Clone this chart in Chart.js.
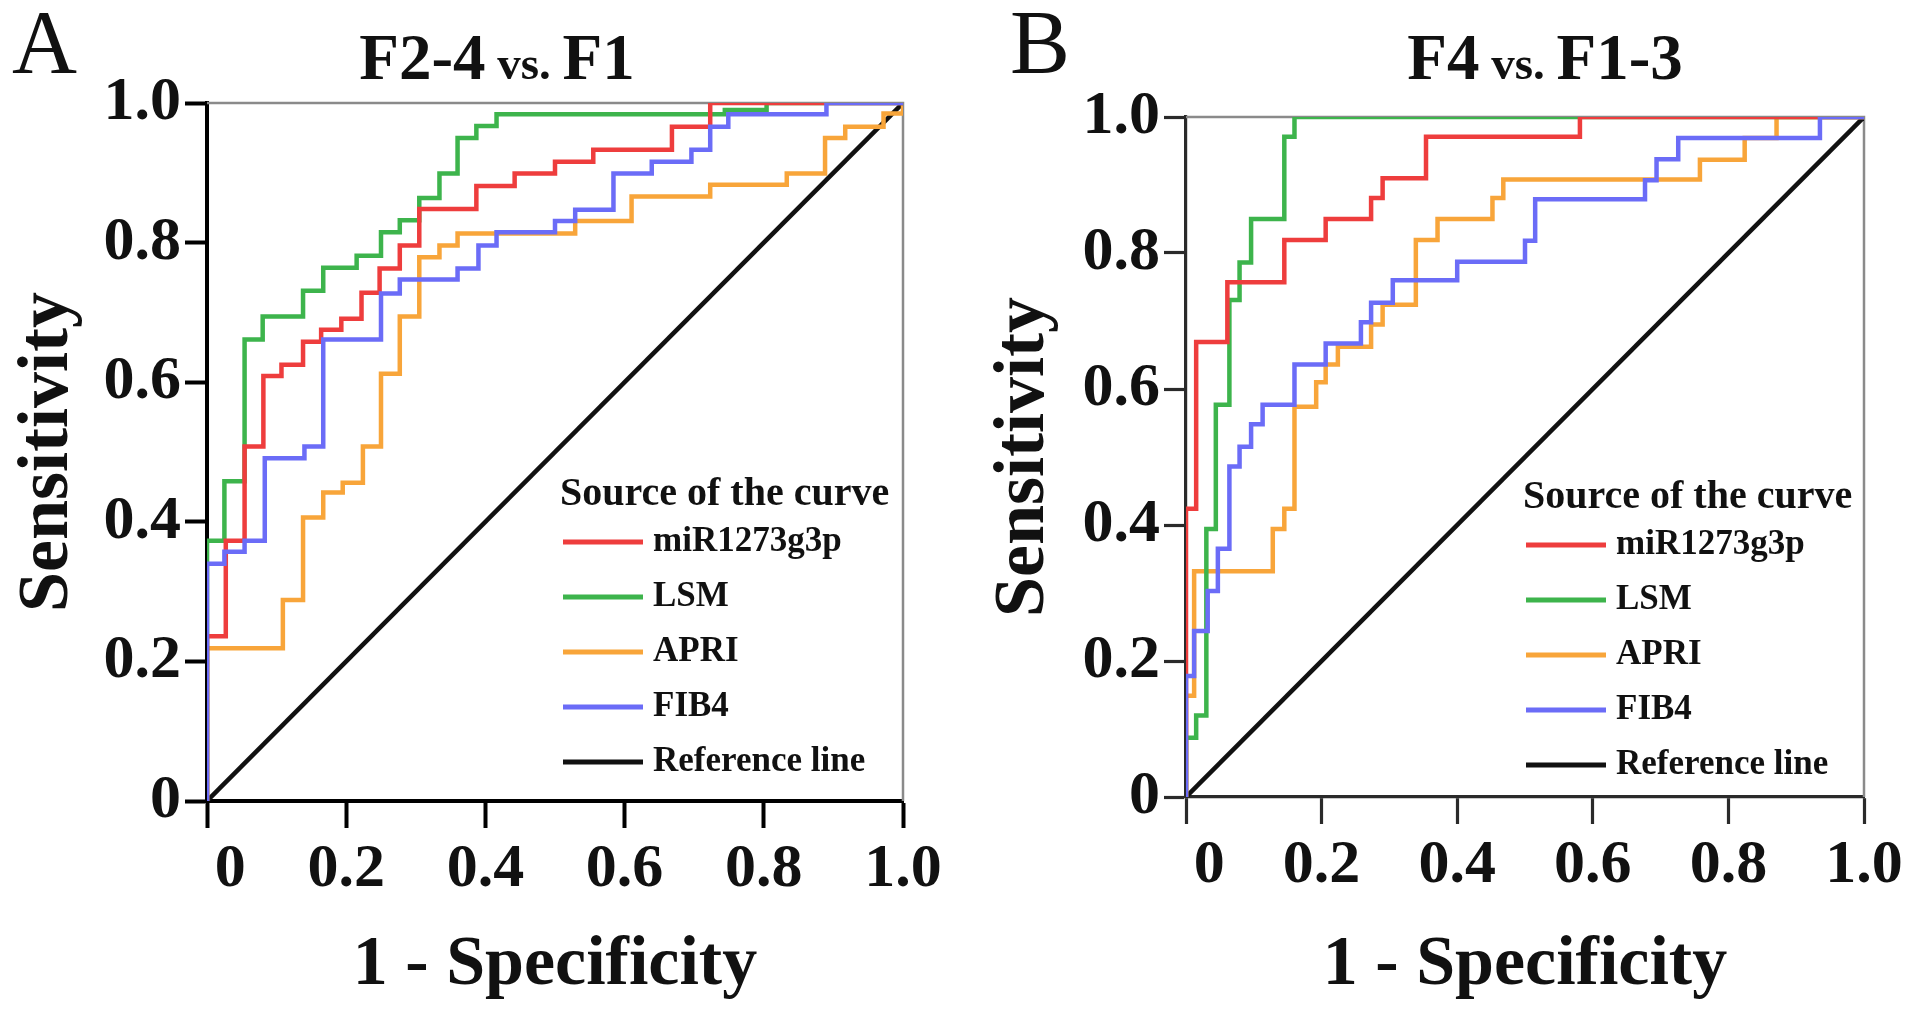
<!DOCTYPE html>
<html>
<head>
<meta charset="utf-8">
<script src="https://cdn.jsdelivr.net/npm/chart.js@4.4.0/dist/chart.umd.min.js"></script>
<style>
  html, body { margin: 0; padding: 0; background: #fff; }
  #wrap { position: relative; width: 1913px; height: 1015px; overflow: hidden; }
  canvas { position: absolute; top: 0; }
  #cA { left: 0; width: 957px; height: 1015px; }
  #cB { left: 957px; width: 956px; height: 1015px; }
</style>
</head>
<body>
<div id="wrap">
  <canvas id="cA" width="957" height="1015"></canvas>
  <canvas id="cB" width="956" height="1015"></canvas>
</div>
<script>
var seriesNames = ["miR1273g3p", "LSM", "APRI", "FIB4", "Reference line"];
var seriesColors = ["#ee3d3d", "#3db44c", "#f8a53a", "#6b6cf7", "#111111"];
var xTicks = [0, 0.2, 0.4, 0.6, 0.8, 1.0];
var xTickLabels = ["\u2007 0", "0.2", "0.4", "0.6", "0.8", "1.0"];
var yTicks = [0, 0.2, 0.4, 0.6, 0.8, 1.0];
var yTickLabels = ["0", "0.2", "0.4", "0.6", "0.8", "1.0"];
var xTitle = "1 - Specificity";
var yTitle = "Sensitivity";
var legendTitle = "Source of the curve";

// panel A: F2-4 vs. F1   points are [1 - specificity, sensitivity]
var aMir = [[0,0],[0,0.236],[0.027,0.373],[0.054,0.508],[0.081,0.609],[0.107,0.625],[0.138,0.658],[0.164,0.675],[0.193,0.691],[0.222,0.728],[0.248,0.763],[0.277,0.796],[0.305,0.848],[0.387,0.881],[0.442,0.899],[0.50,0.916],[0.555,0.933],[0.668,0.966],[0.723,1],[1,1]];
var aLsm = [[0,0],[0,0.373],[0.025,0.458],[0.054,0.661],[0.08,0.694],[0.138,0.731],[0.167,0.764],[0.215,0.781],[0.25,0.815],[0.277,0.832],[0.305,0.864],[0.334,0.899],[0.36,0.95],[0.387,0.967],[0.416,0.984],[0.744,0.99],[0.804,1],[1,1]];
var aApri = [[0,0],[0,0.219],[0.109,0.288],[0.138,0.406],[0.167,0.442],[0.195,0.456],[0.224,0.508],[0.25,0.612],[0.277,0.694],[0.305,0.779],[0.334,0.796],[0.36,0.813],[0.529,0.831],[0.61,0.866],[0.723,0.883],[0.833,0.899],[0.888,0.95],[0.917,0.966],[0.972,0.985],[1,1]];
var aFib4 = [[0,0],[0,0.34],[0.025,0.357],[0.054,0.373],[0.083,0.491],[0.14,0.508],[0.167,0.661],[0.25,0.727],[0.277,0.747],[0.36,0.763],[0.39,0.796],[0.416,0.815],[0.50,0.831],[0.529,0.847],[0.584,0.899],[0.639,0.916],[0.696,0.933],[0.723,0.966],[0.749,0.984],[0.89,1],[1,1]];

// panel B: F4 vs. F1-3
var bMir = [[0,0],[0,0.424],[0.015,0.669],[0.061,0.757],[0.145,0.819],[0.206,0.85],[0.273,0.881],[0.29,0.91],[0.354,0.971],[0.581,1],[1,1]];
var bLsm = [[0,0],[0,0.087],[0.015,0.12],[0.03,0.394],[0.044,0.577],[0.064,0.603],[0.064,0.731],[0.079,0.786],[0.096,0.85],[0.145,0.971],[0.16,1],[1,1]];
var bApri = [[0,0],[0,0.149],[0.012,0.332],[0.128,0.394],[0.145,0.424],[0.16,0.574],[0.192,0.61],[0.206,0.636],[0.224,0.662],[0.273,0.695],[0.29,0.724],[0.339,0.819],[0.371,0.85],[0.452,0.881],[0.468,0.908],[0.758,0.937],[0.824,0.969],[0.871,1],[1,1]];
var bFib4 = [[0,0],[0,0.178],[0.012,0.244],[0.032,0.303],[0.047,0.365],[0.064,0.486],[0.079,0.515],[0.096,0.548],[0.113,0.577],[0.16,0.636],[0.206,0.667],[0.258,0.698],[0.273,0.727],[0.305,0.76],[0.40,0.787],[0.5,0.818],[0.515,0.879],[0.677,0.907],[0.694,0.938],[0.726,0.969],[0.935,1],[1,1]];

var refLine = [[0,0],[1,1]];

var serif = "Liberation Serif";

function makePanel(id, p) {
  var decor = {
    id: "decor" + id,
    beforeDatasetsDraw: function (chart) {
      var a = chart.chartArea, ctx = chart.ctx;
      ctx.save();
      ctx.strokeStyle = "#8a8a8a";
      ctx.lineWidth = 2.5;
      ctx.beginPath();
      ctx.moveTo(a.left, a.top);
      ctx.lineTo(a.right, a.top);
      ctx.lineTo(a.right, a.bottom);
      ctx.stroke();
      ctx.restore();
    },
    afterDraw: function (chart) {
      var a = chart.chartArea, ctx = chart.ctx;
      ctx.save();
      ctx.fillStyle = "#111";
      ctx.textBaseline = "alphabetic";
      ctx.font = "90px '" + serif + "'";
      ctx.fillText(p.letter, p.letterX, 73);

      // title, with a smaller "vs."
      var sizes = [65, 47, 65];
      var w = 0;
      p.title.forEach(function (t, i) {
        ctx.font = "bold " + sizes[i] + "px '" + serif + "'";
        w += ctx.measureText(t).width;
      });
      var x = p.titleCx - w / 2;
      p.title.forEach(function (t, i) {
        ctx.font = "bold " + sizes[i] + "px '" + serif + "'";
        ctx.fillText(t, x, 79);
        x += ctx.measureText(t).width;
      });

      // legend
      var lx = a.left + p.legX, ly = a.top + p.legY;
      ctx.textBaseline = "middle";
      ctx.font = "bold 40px '" + serif + "'";
      ctx.fillText(legendTitle, lx, ly);
      ctx.font = "bold 35px '" + serif + "'";
      chart.data.datasets.forEach(function (ds, i) {
        var y = ly + 47 + i * 55;
        ctx.strokeStyle = ds.borderColor;
        ctx.lineWidth = 5;
        ctx.beginPath();
        ctx.moveTo(lx + 3, y);
        ctx.lineTo(lx + 83, y);
        ctx.stroke();
        ctx.fillText(ds.label, lx + 93, y);
      });
      ctx.restore();
    }
  };

  var series = p.series.concat([refLine]);
  var datasets = series.map(function (d, i) {
    return {
      label: seriesNames[i],
      data: d,
      showLine: true,
      stepped: i < 4 ? "before" : false,
      borderColor: seriesColors[i],
      backgroundColor: seriesColors[i],
      borderWidth: 4.5,
      pointRadius: 0,
      fill: false,
      order: i === 3 ? -1 : 0
    };
  });

  var tickFont = { family: serif, weight: "bold", size: 62 };
  var titleFont = { family: serif, weight: "bold", size: 72 };

  return new Chart(document.getElementById(id), {
    type: "scatter",
    data: { datasets: datasets },
    plugins: [decor],
    options: {
      responsive: false,
      animation: false,
      devicePixelRatio: 1,
      layout: { padding: p.pad },
      plugins: { legend: { display: false }, tooltip: { enabled: false } },
      scales: {
        x: {
          type: "linear", min: 0, max: 1,
          afterBuildTicks: function (s) { s.ticks = xTicks.map(function (v) { return { value: v }; }); },
          afterFit: function (s) { s.height = p.xH; },
          ticks: {
            autoSkip: false, maxRotation: 0, color: "#111", padding: 5, font: tickFont,
            callback: function (v, i) { return xTickLabels[i]; }
          },
          grid: { drawOnChartArea: false, drawTicks: true, tickLength: 27, tickWidth: p.axisW, color: p.axisColor },
          border: { display: true, color: p.axisColor, width: p.axisW },
          title: { display: true, text: xTitle, color: "#111", font: { family: serif, weight: "bold", size: 70 }, padding: { top: 0, bottom: 7 } }
        },
        y: {
          type: "linear", min: 0, max: 1,
          afterBuildTicks: function (s) { s.ticks = yTicks.map(function (v) { return { value: v }; }); },
          afterFit: function (s) { s.width = p.yW; },
          ticks: {
            autoSkip: false, color: "#111", padding: 4, font: tickFont,
            callback: function (v, i) { return yTickLabels[i]; }
          },
          grid: { drawOnChartArea: false, drawTicks: true, tickLength: 22, tickWidth: p.axisW, color: p.axisColor },
          border: { display: true, color: p.axisColor, width: p.axisW },
          title: { display: true, text: yTitle, color: "#111", font: titleFont, padding: { top: p.yTitlePad, bottom: 0 } }
        }
      }
    }
  });
}

makePanel("cA", {
  series: [aMir, aLsm, aApri, aFib4],
  letter: "A", letterX: 12,
  title: ["F2-4", " vs. ", "F1"], titleCx: 497,
  pad: { left: 0, top: 103, right: 54, bottom: 0 },
  yW: 207, xH: 214, yTitlePad: 5,
  axisColor: "#000", axisW: 4,
  legX: 353, legY: 392
});

makePanel("cB", {
  series: [bMir, bLsm, bApri, bFib4],
  letter: "B", letterX: 53,
  title: ["F4", " vs. ", "F1-3"], titleCx: 588,
  pad: { left: 20, top: 117, right: 49, bottom: 0 },
  yW: 209, xH: 218, yTitlePad: 4,
  axisColor: "#2a2a2a", axisW: 3.2,
  legX: 337, legY: 381
});
</script>
</body>
</html>
